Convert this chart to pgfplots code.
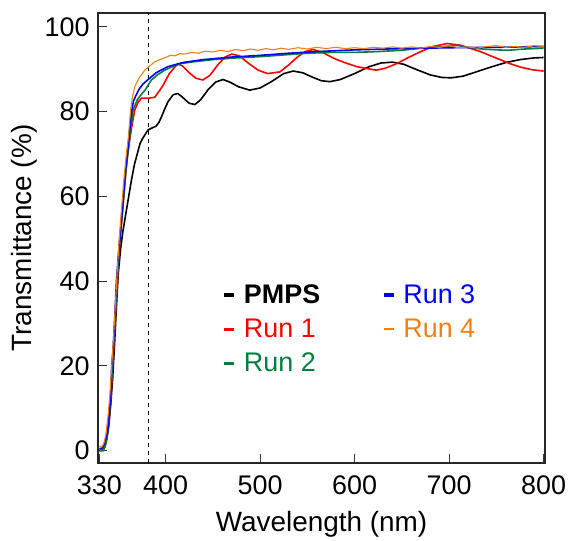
\documentclass[border=0pt]{standalone}
\usepackage{fontspec}
\setmainfont{Liberation Sans}
\usepackage{pgfplots}
\pgfplotsset{compat=1.18}
\definecolor{runred}{RGB}{255,0,0}
\definecolor{rungreen}{RGB}{0,128,64}
\definecolor{runblue}{RGB}{0,0,255}
\definecolor{runorange}{RGB}{240,128,20}

\begin{document}
\begin{tikzpicture}
\begin{axis}[
    scale only axis,
    width=447bp, height=450bp,
    xmin=328.5, xmax=801.5,
    ymin=-2.9, ymax=103.3,
    xtick={330,400,500,600,700,800},
    ytick={0,20,40,60,80,100},
    tick pos=left,
    tick align=inside,
    major tick length=9bp,
    axis line style={black!85, line width=1.2bp},
    every tick/.style={black!80, line width=1bp},
    /pgf/number format/assume math mode=true,
    tick label style={font=\fontsize{27}{31}\selectfont},
    yticklabel style={xshift=-5bp},
    xticklabel style={yshift=-9bp},
    label style={font=\fontsize{28}{32}\selectfont},
    xlabel={Wavelength (nm)},
    ylabel={Transmittance (\%)},
    xlabel style={yshift=-10bp},
    ylabel style={yshift=0bp},
    legend columns=2,
    legend cell align=left,
    legend style={draw=none, fill=none, at={(0.272,0.405)}, anchor=north west,
        font=\fontsize{27}{31}\selectfont, row sep=10bp,
        /tikz/every even column/.append style={column sep=60bp}},
    legend image code/.code={\draw[#1] (0bp,0bp) -- (10bp,0bp); \path (16bp,0bp);},
]
% reference line
\addplot[black, dashed, line width=0.8bp, dash pattern=on 4bp off 4bp, forget plot]
    coordinates {(382,-2.9) (382,103.3)};

% PMPS
\addplot[black, line width=1.6bp, forget plot] coordinates {
(330,0) (334,0.2) (336,1) (338,3) (340,6) (342,11) (344,17) (346,25) (348,34)
(350,42) (352.6,48) (355,52) (358,56) (361,60) (364,64) (367,67.5) (370,70)
(373,72.5) (376,73.8) (381.5,75.7) (386,76.2) (390,76.6) (393,77.5) (395.7,78.8)
(399,80.6) (402.7,82.4) (408,84) (413,84.3) (418,83.4) (425,82) (431,81.7)
(437,82.8) (445,85.2) (453,87.0) (460.7,87.6) (468,87.0) (477,85.9) (489,85.1)
(500,85.6) (512,87.1) (525,89.0) (535,89.6) (545,89.2) (555,88.2) (565,87.3)
(574,87.1) (585,87.6) (600,89.0) (615,90.6) (628,91.5) (640,91.7) (652,91.2)
(665,90.0) (680,88.7) (692,88.1) (702,88.0) (715,88.4) (730,89.5) (745,90.6)
(760,91.6) (775,92.3) (790,92.7) (800,92.8)};

% Run 1
\addplot[runred, line width=1.6bp, forget plot] coordinates {
(330,0.3) (334,0.5) (336,1.5) (338,3.5) (340,7) (342,12) (344,20) (346,28)
(348,36) (350,44) (352,50) (355,58) (358,66) (360,70) (362,73.3) (365,77.5)
(367.4,80.4) (371,82.3) (374.5,83.2) (382,83.2) (388.6,83.4) (393,84.8)
(397.5,86.3) (404,89) (410,90.6) (413,91.3) (418,90.8) (425,89.2) (432,87.9)
(439.5,87.5) (447,88.6) (455,91) (463,92.9) (470,93.6) (478,93.2) (488,91.4)
(498,89.8) (508,89.0) (521,89.4) (530,91.0) (540,93.0) (548,94.2) (556,94.7)
(566,94.0) (580,92.4) (592,91.4) (603,90.6) (613,90.2) (623,89.8) (633,90.3)
(645,91.4) (657,92.8) (670,94.2) (683,95.4) (698,96.1) (712,95.7) (722,95.0)
(733,94.2) (745,93.1) (755,92.2) (765,91.3) (776,90.5) (788,89.9) (800,89.6)};

% Run 2
\addplot[rungreen, line width=1.6bp, forget plot] coordinates {
(330,0) (334,0) (336,1) (338,3) (340,7) (342,13) (344,21) (346,29) (348,37)
(350,45) (352,51) (355,58) (358,66) (361,72) (363,75.5) (365.6,80.4) (370,82.8)
(374,84) (378,85) (385,87.5) (392,88.8) (399,89.8) (408,90.7) (417,91.4)
(430,91.8) (450,92.3) (475,92.7) (500,93.0) (525,93.4) (550,93.8) (575,94.0)
(600,94.0) (625,94.2) (650,94.5) (670,95.0) (685,95.2) (700,95.5) (708,95.7)
(720,95.2) (735,94.8) (750,94.6) (762,94.5) (780,94.8) (800,95.0)};

% Run 3
\addplot[runblue, line width=1.6bp, forget plot] coordinates {
(330,0.5) (333,0.6) (335,1.5) (337,3) (339,5) (340.5,9) (341.7,12) (343,20)
(344.5,24) (346,30.5) (348,40) (350,46) (351.5,50) (354,56) (357.6,66) (360,71)
(362,75.6) (364,80) (366,82.5) (369,84) (372,85.3) (376,86.5) (381,87.5)
(390,89.2) (402,90.6) (418,91.6) (440,92.3) (470,92.9) (500,93.3) (530,93.8)
(560,94.2) (600,94.6) (650,94.9) (700,95.1) (750,95.2) (800,95.4)};

% Run 4
\addplot[runorange, line width=1.1bp, forget plot] coordinates {
(330,1) (333,1) (335,2) (337,4) (339,8) (341,13) (343,20) (345,27) (347,35)
(349,43) (351,50) (353,56) (355.5,63) (358,69) (360.3,73.3) (363,80.4) (365,83.5)
(367.4,85.9) (372,88) (378,89.8) (388.6,91.8) (400,92.8) (405,93.3) (410,93.2)
(415,93.7) (420,93.6) (428,94.0) (435,93.8) (442,94.3) (450,94.1) (458,94.5)
(466,94.2) (474,94.7) (482,94.4) (490,94.8) (498,94.5) (506,94.9) (514,94.6)
(522,95.0) (530,94.7) (540,95.1) (550,94.8) (560,95.2) (570,94.9) (580,95.2)
(590,94.9) (600,95.1) (610,94.9) (620,95.2) (630,95.0) (640,95.3) (650,95.0)
(660,95.3) (670,95.0) (680,95.4) (690,95.2) (700,95.6) (710,95.1) (720,95.3)
(730,95.0) (740,95.4) (750,95.6) (760,95.2) (770,95.4) (780,95.2) (790,95.6)
(800,95.4)};

% legend
\addlegendimage{black, line width=3.2bp}
\addlegendentry{\textbf{PMPS}}
\addlegendimage{runblue, line width=3.2bp}
\addlegendentry{\textcolor{runblue}{Run 3}}
\addlegendimage{runred, line width=3.2bp}
\addlegendentry{\textcolor{runred}{Run 1}}
\addlegendimage{runorange, line width=1.4bp}
\addlegendentry{\textcolor{runorange}{Run 4}}
\addlegendimage{rungreen, line width=3.2bp}
\addlegendentry{\textcolor{rungreen}{Run 2}}
\end{axis}
% fix the page to the reference frame
\path (current axis.south west) ++(-98bp,-72bp) rectangle ++(571bp,535bp);
\end{tikzpicture}
\end{document}
